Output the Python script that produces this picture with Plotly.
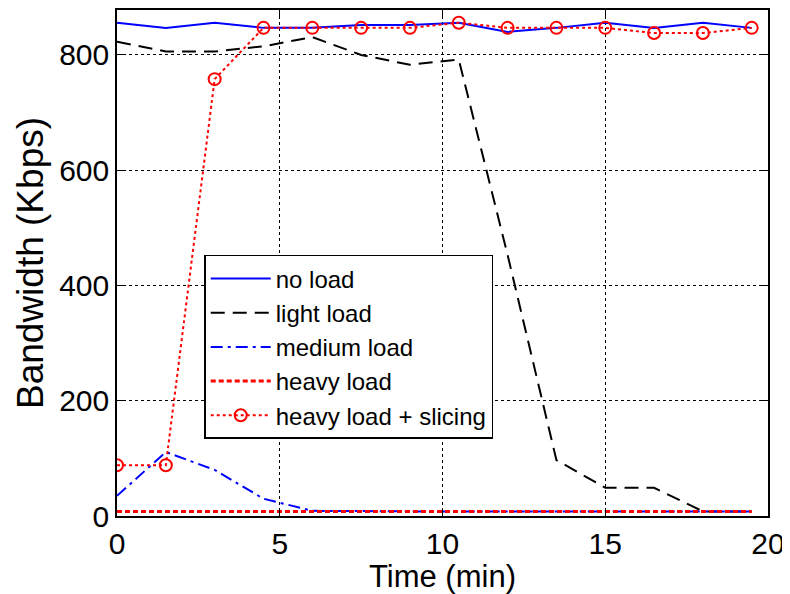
import plotly.graph_objects as go

time_min = [0, 1.5, 3, 4.5, 6, 7.5, 9, 10.5, 12, 13.5, 15, 16.5, 18, 19.5]
no_load = [856, 847, 856, 847, 847, 852, 852, 856, 840, 847, 856, 847, 856, 847]
light_load = [823, 806, 806, 815, 831, 800, 783, 792, 453, 97, 49, 49, 8, 8]
medium_load = [35, 111, 80, 30, 9, 8, 8, 8, 8, 8, 8, 8, 8, 8]
heavy_load = [8, 8, 8, 8, 8, 8, 8, 8, 8, 8, 8, 8, 8, 8]
heavy_slicing = [88, 88, 758, 847, 847, 847, 847, 856, 847, 847, 847, 838, 838, 847]

x_ticks = [0, 5, 10, 15, 20]
y_ticks = [0, 200, 400, 600, 800]

FONT = "Liberation Sans, Arial, sans-serif"

fig = go.Figure()
fig.add_trace(go.Scatter(x=time_min, y=no_load, mode="lines", name="no load",
                         line=dict(color="#0000ff", width=2)))
fig.add_trace(go.Scatter(x=time_min, y=light_load, mode="lines", name="light load",
                         line=dict(color="black", width=2, dash="14px,8px")))
fig.add_trace(go.Scatter(x=time_min, y=medium_load, mode="lines", name="medium load",
                         line=dict(color="#0000ff", width=2, dash="12px,5px,3px,5px")))
fig.add_trace(go.Scatter(x=time_min, y=heavy_load, mode="lines", name="heavy load",
                         line=dict(color="#ff0000", width=3, dash="5px,3px")))
fig.add_trace(go.Scatter(x=time_min, y=heavy_slicing, mode="lines+markers",
                         name="heavy load + slicing",
                         line=dict(color="#ff0000", width=2, dash="3px,3px"),
                         marker=dict(symbol="circle-open", size=12, color="#ff0000",
                                     line=dict(width=2, color="#ff0000"))))

axis_common = dict(
    showline=True, linecolor="black", linewidth=1.5, mirror="allticks",
    ticks="inside", ticklen=8, tickwidth=1.2, tickcolor="black",
    showgrid=True, gridcolor="black", gridwidth=1, griddash="dot",
    zeroline=False, automargin=False,
    tickfont=dict(family=FONT, size=30, color="black"),
)

fig.update_xaxes(range=[0, 20], tickvals=x_ticks,
                 title=dict(text="Time (min)", font=dict(family=FONT, size=31, color="black"),
                            standoff=0),
                 **axis_common)
fig.update_yaxes(range=[0, 878], tickvals=y_ticks,
                 title=dict(text="Bandwidth (Kbps)", font=dict(family=FONT, size=37, color="black"),
                            standoff=4),
                 **axis_common)

fig.update_layout(
    width=782, height=586,
    margin=dict(l=109, r=22, t=2, b=78),
    paper_bgcolor="white", plot_bgcolor="white",
    font=dict(family=FONT, color="black"),
    legend=dict(x=0.134, y=0.516, xanchor="left", yanchor="top",
                bgcolor="white", bordercolor="black", borderwidth=1.5,
                font=dict(family=FONT, size=24, color="black"),
                itemwidth=60, tracegroupgap=0),
)

fig.write_html("out.html")
